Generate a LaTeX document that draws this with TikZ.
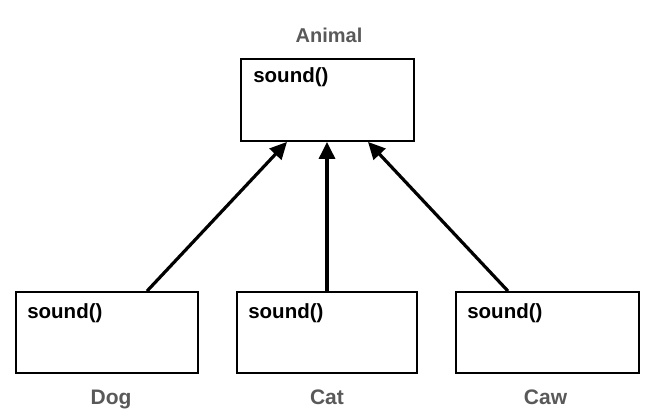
\documentclass[tikz,border=0pt]{standalone}
\usepackage{fontspec}
\setmainfont{Liberation Sans}
\usetikzlibrary{arrows.meta}
\definecolor{lblgray}{HTML}{595959}
\begin{document}
\begin{tikzpicture}[x=1pt,y=-1pt,
  cls/.style={draw=black,line width=1.8pt,rectangle,minimum height=81pt,inner sep=0pt},
  meth/.style={anchor=base west,inner sep=0pt,font=\bfseries\fontsize{20.5}{22}\selectfont},
  lbl/.style={anchor=base,inner sep=0pt,text=lblgray,font=\bfseries\fontsize{21}{23}\selectfont},
  inh/.style={line width=3.2pt,-{Triangle[length=17pt,width=16pt]}}]
\useasboundingbox (0,0) rectangle (649,413);
\node[cls,minimum width=173pt,minimum height=82pt] (animal) at (327.5,100) {};
\node[cls,minimum width=182pt] (dog) at (107,332.5) {};
\node[cls,minimum width=180pt] (cat) at (327,332.5) {};
\node[cls,minimum width=183pt] (caw) at (547.5,332.5) {};
\node[meth] (animalm) at ([xshift=13pt,yshift=-24pt]animal.north west) {sound()};
\node[meth] (dogm) at ([xshift=12pt,yshift=-27pt]dog.north west) {sound()};
\node[meth] (catm) at ([xshift=12pt,yshift=-27pt]cat.north west) {sound()};
\node[meth] (cawm) at ([xshift=12pt,yshift=-27pt]caw.north west) {sound()};
\node[lbl,font=\bfseries\fontsize{20}{22}\selectfont] (animall) at (329,42) {Animal};
\node[lbl] (dogl) at (111,404) {Dog};
\node[lbl] (catl) at (327,404) {Cat};
\node[lbl] (cawl) at (545.5,404) {Caw};
\draw[inh] ([xshift=40pt]dog.north) -- ([xshift=-40.5pt]animal.south);
\draw[inh] (cat.north) -- (cat.north |- animal.south);
\draw[inh] ([xshift=-39.5pt]caw.north) -- ([xshift=40.5pt]animal.south);
\end{tikzpicture}
\end{document}
